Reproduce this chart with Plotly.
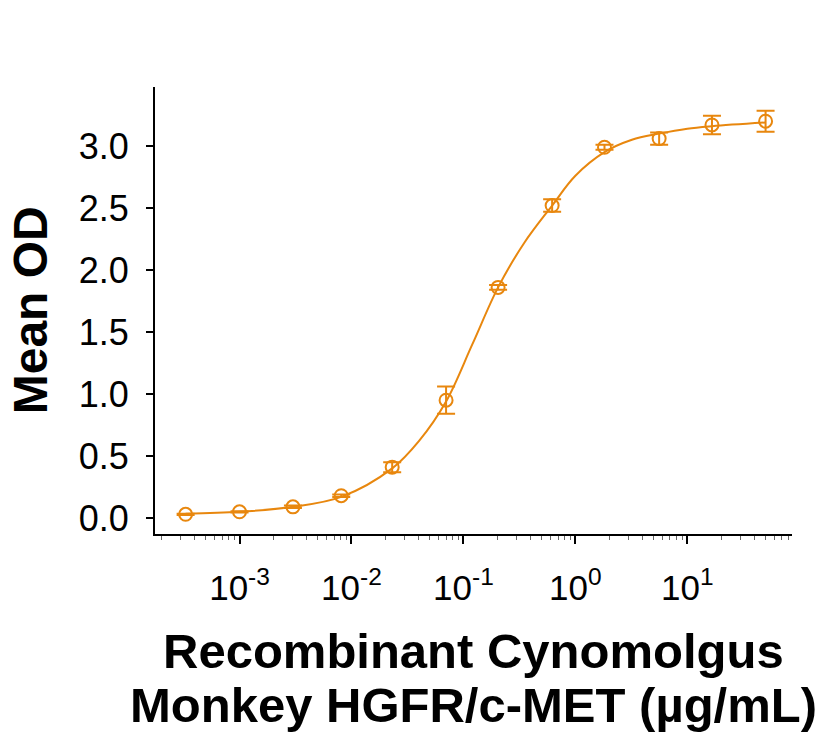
import plotly.graph_objects as go

conc = [0.00033, 0.001, 0.003, 0.0081, 0.0231, 0.070, 0.204, 0.62, 1.82, 5.6, 16.6, 50.0]
mean_od = [0.03, 0.05, 0.09, 0.18, 0.41, 0.95, 1.86, 2.52, 2.99, 3.06, 3.17, 3.20]
err = [0.005, 0.005, 0.01, 0.01, 0.04, 0.11, 0.02, 0.05, 0.02, 0.05, 0.075, 0.085]

# fitted curve
fit_x = [0.00033, 0.001, 0.003, 0.0081, 0.0231, 0.04, 0.070, 0.12, 0.204, 0.35, 0.62, 1.0, 1.82, 3.2, 5.6, 10.0, 16.6, 50.0]
fit_y = [0.035, 0.05, 0.09, 0.17, 0.40, 0.62, 0.94, 1.40, 1.86, 2.22, 2.52, 2.76, 2.95, 3.05, 3.10, 3.14, 3.16, 3.19]

y_ticks = [0.0, 0.5, 1.0, 1.5, 2.0, 2.5, 3.0]
x_tickvals = [0.001, 0.01, 0.1, 1, 10]
x_ticktext = ["10<sup>-3</sup>", "10<sup>-2</sup>", "10<sup>-1</sup>", "10<sup>0</sup>", "10<sup>1</sup>"]
x_title_lines = ["Recombinant Cynomolgus", "Monkey HGFR/c-MET (µg/mL)"]
y_title = "Mean OD"

color = "#E8870E"
font = "Liberation Sans, Arial, sans-serif"

fig = go.Figure()
fig.add_trace(go.Scatter(
    x=fit_x, y=fit_y, mode="lines",
    line=dict(color=color, width=2, shape="spline", smoothing=1.0),
    hoverinfo="skip", showlegend=False))
fig.add_trace(go.Scatter(
    x=conc, y=mean_od, mode="markers",
    marker=dict(symbol="circle-open", size=13, color=color, line=dict(width=2, color=color)),
    error_y=dict(type="data", array=err, visible=True, color=color, thickness=2, width=9),
    showlegend=False))

fig.update_layout(
    width=831, height=738,
    margin=dict(l=155, r=39, t=87, b=204),
    paper_bgcolor="white", plot_bgcolor="white",
    font=dict(family=font, color="black"),
)
fig.update_xaxes(
    type="log", range=[-3.755, 1.935], tickvals=x_tickvals, ticktext=x_ticktext,
    showgrid=False, zeroline=False,
    showline=True, linecolor="black", linewidth=2,
    ticks="outside", ticklen=8, tickwidth=1.5, tickcolor="black",
    tickfont=dict(size=35, family=font), ticklabelstandoff=14,
    minor=dict(ticks="outside", ticklen=4, tickwidth=1, tickcolor="#666",
               dtick="D1", showgrid=False),
)
fig.update_yaxes(
    range=[-0.129, 3.476], tickvals=y_ticks, tickformat=".1f",
    showgrid=False, zeroline=False,
    showline=True, linecolor="black", linewidth=2,
    ticks="outside", ticklen=7, tickwidth=1.5, tickcolor="black",
    tickfont=dict(size=36, family=font), ticklabelstandoff=10,
)

fig.add_annotation(text="<b>%s</b>" % y_title, textangle=-90, xref="paper", yref="paper",
                   x=-0.195, y=0.5, xanchor="center", yanchor="middle", showarrow=False,
                   font=dict(size=48, family=font, color="black"))
fig.add_annotation(text="<b>%s</b>" % x_title_lines[0], xref="paper", yref="paper",
                   x=0.5, y=-0.262, xanchor="center", yanchor="middle", showarrow=False,
                   font=dict(size=49, family=font, color="black"))
fig.add_annotation(text="<b>%s</b>" % x_title_lines[1], xref="paper", yref="paper",
                   x=0.5, y=-0.383, xanchor="center", yanchor="middle", showarrow=False,
                   font=dict(size=49, family=font, color="black"))

fig.write_html("out.html")
